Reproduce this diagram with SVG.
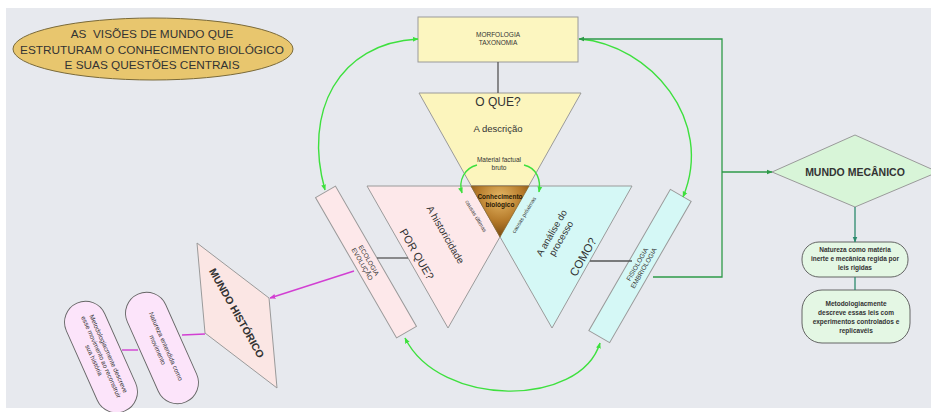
<svg xmlns="http://www.w3.org/2000/svg" width="931" height="412" viewBox="0 0 931 412">
<style>
text{font-family:"Liberation Sans",Arial,sans-serif;fill:#333;text-anchor:middle}
.b{font-weight:bold}
.sh{stroke:#9a9a9a;stroke-width:1}
.g{fill:none;stroke:#3ee03e;stroke-width:1.4}
.dg{fill:none;stroke:#2e9a48;stroke-width:1.3}
.mg{fill:none;stroke:#d23fd2;stroke-width:1.4}
.gr{fill:none;stroke:#555;stroke-width:1.3}
.tl{fill:none;stroke:#2b8a6c;stroke-width:1.3}
</style>
<defs>
<marker id="ag" viewBox="0 0 10 10" refX="9" refY="5" markerWidth="6" markerHeight="6" markerUnits="userSpaceOnUse" orient="auto-start-reverse"><path d="M0,1 L10,5 L0,9 z" fill="#3ee03e"/></marker>
<marker id="adg" viewBox="0 0 10 10" refX="9" refY="5" markerWidth="6" markerHeight="6" markerUnits="userSpaceOnUse" orient="auto"><path d="M0,1 L10,5 L0,9 z" fill="#2e9a48"/></marker>
<marker id="amg" viewBox="0 0 10 10" refX="9" refY="5" markerWidth="6" markerHeight="6" markerUnits="userSpaceOnUse" orient="auto"><path d="M0,1 L10,5 L0,9 z" fill="#d23fd2"/></marker>
<marker id="atl" viewBox="0 0 10 10" refX="9" refY="5" markerWidth="6" markerHeight="6" markerUnits="userSpaceOnUse" orient="auto"><path d="M0,1 L10,5 L0,9 z" fill="#2b8a6c"/></marker>
<radialGradient id="brown" cx="500" cy="198" r="42" gradientUnits="userSpaceOnUse">
<stop offset="0" stop-color="#e6b866"/><stop offset="0.55" stop-color="#b57a2a"/><stop offset="1" stop-color="#6e420c"/>
</radialGradient>
</defs>
<rect x="0" y="0" width="931" height="412" fill="#ffffff"/>
<rect x="6" y="8" width="925" height="400" fill="#e7e9ee"/>

<g id="title">
<ellipse cx="153" cy="49" rx="140" ry="31" fill="#e8c66e" stroke="#7a6a3a" stroke-width="1"/>
<text x="152" y="38" font-size="11.8">AS &#160;VISÕES DE MUNDO QUE</text>
<text x="152" y="54" font-size="11.8">ESTRUTURAM O CONHECIMENTO BIOLÓGICO</text>
<text x="152" y="69" font-size="11.8">E SUAS QUESTÕES CENTRAIS</text>
</g>

<g id="morfologia">
<rect x="418" y="17" width="160" height="45" fill="#fcf6c0" class="sh"/>
<text x="498" y="37" font-size="6.5">MORFOLOGIA</text>
<text x="498" y="45" font-size="6.5">TAXONOMIA</text>
</g>

<g id="o-que">
<polygon points="419,93 581,93 500,237" fill="#fcf5bd" class="sh"/>
<text x="498" y="106" font-size="12">O QUE?</text>
<text x="498" y="132" font-size="9.5">A descrição</text>
<text x="499" y="162" font-size="6.5">Material factual</text>
<text x="499" y="170" font-size="6.5">bruto</text>
</g>

<g id="por-que">
<polygon points="367,186 529,186 448,328" fill="#fde8ea" class="sh"/>
<text transform="translate(445 235) rotate(60)" font-size="10" y="3">A historicidade</text>
<text transform="translate(417 254) rotate(60)" font-size="11" y="4">POR QUE?</text>
<text transform="translate(476 216) rotate(59)" font-size="5.5" y="2">causas  últimas</text>
</g>

<g id="como">
<polygon points="471,186 632,186 552,328" fill="#d5f8f6" class="sh"/>
<g transform="translate(557 236) rotate(-60)">
<text y="-3" font-size="9.5">A análise do</text>
<text y="8" font-size="9.5">processo</text>
</g>
<text transform="translate(583 257) rotate(-60)" font-size="11.5" y="4">COMO?</text>
<text transform="translate(524 215) rotate(-59)" font-size="5.5" y="2">causas próximas</text>
</g>

<g id="conhecimento">
<polygon points="471,186 529,186 500,237" fill="url(#brown)" stroke="#8a6a30" stroke-width="0.8"/>
<text x="500" y="199" font-size="6.5" class="b" style="fill:#2a1a05">Conhecimento</text>
<text x="500" y="207" font-size="6.5" class="b" style="fill:#2a1a05">biológico</text>
</g>

<g id="ecologia" transform="translate(366 262) rotate(60)">
<rect x="-81" y="-11.5" width="162" height="23" fill="#fde8ea" class="sh"/>
<text y="-1" font-size="6.5">ECOLOGIA</text>
<text y="6.5" font-size="6.5">EVOLUÇÃO</text>
</g>

<g id="fisiologia" transform="translate(640 266) rotate(-60)">
<rect x="-81.5" y="-12" width="163" height="24" fill="#d5f8f6" class="sh"/>
<text y="-1" font-size="6.5">FISIOLOGIA</text>
<text y="6.5" font-size="6.5">EMBRIOLOGIA</text>
</g>

<g id="mundo-historico">
<polygon points="197,243 269,298 277,388 205,333" fill="#fbe6e4" class="sh"/>
<text transform="translate(237 313) rotate(60.5)" font-size="10.5" class="b" y="4">MUNDO HISTÓRICO</text>
</g>

<g id="natureza-movimento" transform="translate(162 348) rotate(66)">
<rect x="-59" y="-21" width="118" height="42" rx="21" fill="#fce4fa" stroke="#666" stroke-width="0.9"/>
<text y="-2" font-size="6.5">Natureza entendida como</text>
<text y="7" font-size="6.5">movimento</text>
</g>

<g id="metodologia-historia" transform="translate(101 357) rotate(66)">
<rect x="-59" y="-21" width="118" height="42" rx="21" fill="#fce4fa" stroke="#666" stroke-width="0.9"/>
<text y="-6" font-size="6.5">Metodologiacmente descreve</text>
<text y="2" font-size="6.5">esse movimento ao reconstruir</text>
<text y="10" font-size="6.5">sua história</text>
</g>

<g id="mundo-mecanico">
<polygon points="772,172 855,135 938,172 855,207" fill="#d8f5d8" class="sh"/>
<text x="855" y="176" font-size="10.5" class="b">MUNDO MECÂNICO</text>
</g>

<g id="natureza-materia">
<rect x="802" y="242" width="106" height="35" rx="17" fill="#e4f7e4" stroke="#555" stroke-width="0.9"/>
<text x="855" y="252" font-size="6.5" class="b">Natureza como matéria</text>
<text x="855" y="261" font-size="6.5" class="b">inerte e mecânica regida por</text>
<text x="855" y="270" font-size="6.5" class="b">leis rigidas</text>
</g>

<g id="metodologia-leis">
<rect x="802" y="290" width="108" height="53" rx="20" fill="#e4f7e4" stroke="#555" stroke-width="0.9"/>
<text x="856" y="306" font-size="6.5" class="b">Metodologiacmente</text>
<text x="856" y="315" font-size="6.5" class="b">descreve essas leis com</text>
<text x="856" y="324" font-size="6.5" class="b">experimentos controlados e</text>
<text x="856" y="333" font-size="6.5" class="b">replicavéis</text>
</g>

<g id="connectors">
<line class="gr" x1="498" y1="62" x2="498" y2="93"/>
<line class="gr" x1="377" y1="258" x2="408" y2="258"/>
<line class="gr" x1="590" y1="261" x2="632" y2="261"/>
<path class="g" d="M418,39 C338,43 303,112 325,190" marker-start="url(#ag)" marker-end="url(#ag)"/>
<path class="g" d="M580,39 C650,45 715,120 683,197" marker-end="url(#ag)"/>
<path class="g" d="M405,338 C440,408 580,408 600,343" marker-start="url(#ag)" marker-end="url(#ag)"/>
<path class="g" d="M477,165 C465,168 458,180 462,193" marker-end="url(#ag)"/>
<path class="g" d="M524,165 C537,168 541,180 539,192" marker-end="url(#ag)"/>
<path class="dg" d="M653,277 L722,277 L722,39 L579,39" marker-end="url(#adg)"/>
<path class="dg" d="M722,172 L772,172" marker-end="url(#adg)"/>
<path class="mg" d="M354,271 L270,298" marker-end="url(#amg)"/>
<line class="mg" x1="205" y1="334" x2="182" y2="335"/>
<line class="mg" x1="122" y1="350" x2="138" y2="350"/>
<path class="tl" d="M855,207 L855,242" marker-end="url(#atl)"/>
<line class="tl" x1="855" y1="277" x2="855" y2="290"/>
</g>
</svg>
